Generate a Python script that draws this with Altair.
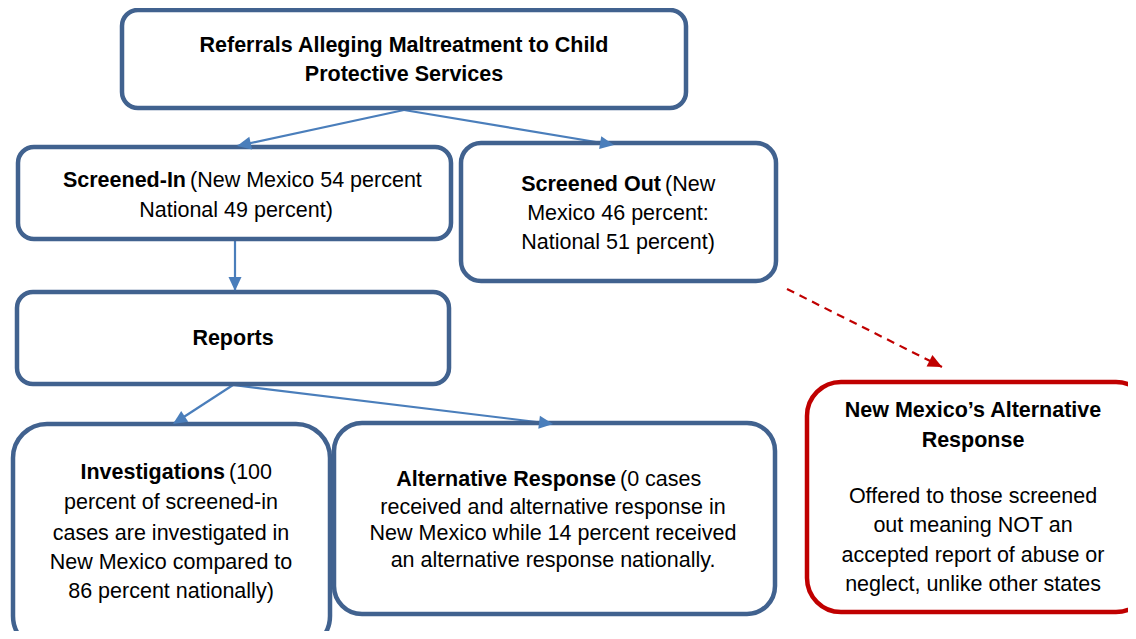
import math
import altair as alt
import pandas as pd

# ---- boxes (outline centre-lines, in reference pixel space) ----
box_id = ["referrals", "screened_in", "screened_out", "reports",
          "investigations", "alt_response", "nm_alt"]
box_x = [122, 18, 461, 17, 13, 334, 807]
box_x2 = [686, 451, 776, 449, 330, 775, 1150]
box_y = [10, 147, 143, 292, 424, 423, 382]
box_y2 = [108, 239, 281, 384, 650, 614, 612]
box_radius = [16, 16, 20, 16, 34, 28, 34]
box_color = ["#41628F"] * 6 + ["#C00000"]

# ---- connectors ----
arr_x = [404, 404, 235, 233, 233, 787]
arr_y = [110, 110, 240, 385, 385, 289]
arr_x2 = [237, 614, 235, 173, 553, 942]
arr_y2 = [146, 145, 291, 424, 424, 367]
arr_color = ["#4A7EBB"] * 5 + ["#C00000"]
arr_dashed = [False] * 5 + [True]

# ---- texts ----
txt_label = [
    "Referrals Alleging Maltreatment  to Child", "Protective Services",
    "Screened-In", "(New Mexico 54 percent", "National 49 percent)",
    "Screened Out", "(New", "Mexico 46 percent:", "National 51 percent)",
    "Reports",
    "Investigations", "(100", "percent of screened-in", "cases are investigated in",
    "New Mexico compared to", "86 percent nationally)",
    "Alternative Response", "(0 cases", "received and alternative response in",
    "New Mexico while 14 percent received", "an alternative response nationally.",
    "New Mexico\u2019s Alternative", "Response", "Offered to those screened",
    "out meaning NOT an", "accepted report of abuse or", "neglect, unlike other states",
]
txt_x = [404, 404,
         186, 190, 236,
         661, 665, 618, 618,
         233,
         225, 229, 171, 171, 171, 171,
         616, 620, 553, 553, 553,
         973, 973, 973, 973, 973, 973]
txt_y = [46, 75,
         181, 181, 211,
         185, 185, 214, 243,
         339,
         473, 473, 503, 534, 563, 592,
         480, 480, 508, 534, 561,
         411, 441, 497, 526, 556, 585]
txt_weight = ["bold", "bold",
              "bold", "normal", "normal",
              "bold", "normal", "normal", "normal",
              "bold",
              "bold", "normal", "normal", "normal", "normal", "normal",
              "bold", "normal", "normal", "normal", "normal",
              "bold", "bold", "normal", "normal", "normal", "normal"]
txt_align = ["center", "center",
             "right", "left", "center",
             "right", "left", "center", "center",
             "center",
             "right", "left", "center", "center", "center", "center",
             "right", "left", "center", "center", "center",
             "center", "center", "center", "center", "center", "center"]

boxes = pd.DataFrame({"id": box_id, "x": box_x, "x2": box_x2, "y": box_y,
                      "y2": box_y2})
angles = [(math.degrees(math.atan2(x2 - x1, -(y2 - y1)))) % 360
          for x1, y1, x2, y2 in zip(arr_x, arr_y, arr_x2, arr_y2)]
arrows = pd.DataFrame({"x": arr_x, "y": arr_y, "x2": arr_x2, "y2": arr_y2,
                       "color": arr_color, "dashed": arr_dashed,
                       "angle": angles})
texts = pd.DataFrame({"label": txt_label, "x": txt_x, "y": txt_y,
                      "weight": txt_weight, "align": txt_align})

xs = alt.Scale(domain=[8, 1128], nice=False, zero=False)
ys = alt.Scale(domain=[8, 631], reverse=True, nice=False, zero=False)
X = alt.X("x:Q", scale=xs, axis=None)
Y = alt.Y("y:Q", scale=ys, axis=None)

layers = []

# connectors
for dashed in [False, True]:
    mk = dict(strokeWidth=2.2)
    if dashed:
        mk["strokeDash"] = [8, 6]
    layers.append(
        alt.Chart(arrows).transform_filter(alt.datum.dashed == dashed)
        .mark_rule(**mk)
        .encode(x=X, y=Y, x2="x2:Q", y2="y2:Q",
                color=alt.Color("color:N", scale=None))
    )

# boxes
for bid, r, c in zip(box_id, box_radius, box_color):
    layers.append(
        alt.Chart(boxes).transform_filter(alt.datum.id == bid)
        .mark_rect(cornerRadius=r, fill="white", stroke=c, strokeWidth=4.5)
        .encode(x=X, x2="x2:Q", y=Y, y2="y2:Q")
    )

# arrow heads
head = "M0,0L0.65,1.4L-0.65,1.4Z"
layers.append(
    alt.Chart(arrows)
    .mark_point(shape=head, filled=True, size=400, opacity=1, strokeWidth=0)
    .encode(x=alt.X("x2:Q", scale=xs, axis=None),
            y=alt.Y("y2:Q", scale=ys, axis=None),
            angle=alt.Angle("angle:Q", scale=None),
            color=alt.Color("color:N", scale=None))
)

# texts
for w in ["bold", "normal"]:
    for a in ["center", "left", "right"]:
        layers.append(
            alt.Chart(texts)
            .transform_filter((alt.datum.weight == w) & (alt.datum.align == a))
            .mark_text(font="Liberation Sans", fontSize=21.5, fontWeight=w,
                       align=a, baseline="middle", color="black")
            .encode(x=X, y=Y, text="label:N")
        )

chart = (
    alt.layer(*layers)
    .properties(width=1120, height=623, padding=0,
                autosize=alt.AutoSizeParams(type="none"),
                background="white")
    .configure_view(stroke=None)
)

chart.save("out.html", embed_options={"renderer": "svg", "actions": False})
